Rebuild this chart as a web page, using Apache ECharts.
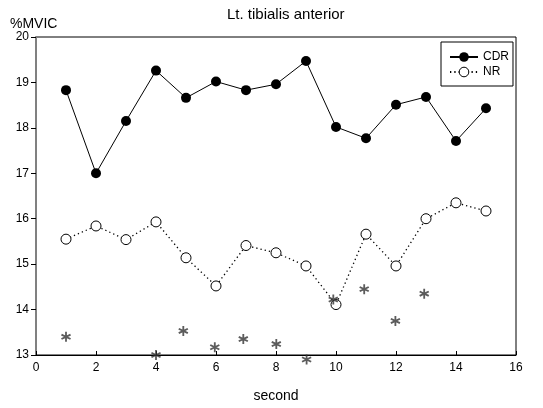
<!DOCTYPE html>
<html>
<head>
<meta charset="utf-8">
<script src="https://cdn.jsdelivr.net/npm/echarts@6/dist/echarts.min.js"></script>
<style>
  html, body { margin: 0; padding: 0; background: #fff; }
  #chart { width: 543px; height: 408px; }
</style>
</head>
<body>
<div id="chart"></div>
<script>
// x positions (second)
const seconds = [1, 2, 3, 4, 5, 6, 7, 8, 9, 10, 11, 12, 13, 14, 15];
// CDR (filled circles, solid line)
const cdrValues = [18.83, 17.0, 18.15, 19.26, 18.66, 19.02, 18.83, 18.96, 19.47, 18.02, 17.77, 18.51, 18.68, 17.71, 18.43];
// NR (open circles, dotted line)
const nrValues = [15.55, 15.84, 15.54, 15.93, 15.14, 14.52, 15.41, 15.25, 14.96, 14.11, 15.66, 14.96, 16.0, 16.35, 16.17];
// asterisk marks
const starX = [1.0, 4.0, 4.91, 5.96, 6.91, 8.01, 9.02, 9.91, 10.94, 11.98, 12.94];
const starY = [13.4, 13.0, 13.53, 13.17, 13.35, 13.24, 12.9, 14.22, 14.45, 13.75, 14.35];
const xTicks = { min: 0, max: 16, interval: 2 };
const yTicks = { min: 13, max: 20, interval: 1 };

const pair = (xs, ys) => xs.map((x, i) => [x, ys[i]]);

// six-armed asterisk
const starPath = 'path://M4.1 0L5.9 0L5.9 10L4.1 10Z' +
  'M0.05 3.57L0.95 2.01L9.95 6.43L9.05 7.99Z' +
  'M0.95 7.99L0.05 6.43L9.05 2.01L9.95 3.57Z';

const chart = echarts.init(document.getElementById('chart'));

const font = 'Arial, "Liberation Sans", sans-serif';

const option = {
  backgroundColor: '#fff',
  animation: false,
  textStyle: { fontFamily: font, color: '#000' },
  title: [
    { text: 'Lt. tibialis anterior', left: 222, top: 2,
      textStyle: { fontSize: 15, fontWeight: 'normal', color: '#000', fontFamily: font } },
    { text: '%MVIC', left: 5, top: 12,
      textStyle: { fontSize: 14, fontWeight: 'normal', color: '#000', fontFamily: font } }
  ],
  legend: {
    orient: 'vertical',
    left: 441,
    top: 42,
    padding: [9, 4, 8, 8],
    itemGap: 3,
    itemWidth: 28,
    itemHeight: 12,
    borderColor: '#000',
    borderWidth: 1,
    borderRadius: 0,
    textStyle: { fontSize: 12, color: '#000', fontFamily: font },
    data: [
      { name: 'CDR' },
      { name: 'NR', itemStyle: { color: '#fff', borderColor: '#000', borderWidth: 1 } }
    ]
  },
  grid: {
    left: 36, right: 27, top: 37, bottom: 53,
    show: true,
    borderColor: '#000',
    borderWidth: 1
  },
  xAxis: {
    type: 'value',
    min: xTicks.min, max: xTicks.max, interval: xTicks.interval,
    name: 'second',
    nameLocation: 'middle',
    nameGap: 34,
    nameTextStyle: { fontSize: 14, color: '#000', fontFamily: font },
    axisLine: { lineStyle: { color: '#000', width: 1 } },
    axisTick: { inside: true, length: 4, lineStyle: { color: '#000' } },
    axisLabel: { fontSize: 12, color: '#000', margin: 7, fontFamily: font },
    splitLine: { show: false }
  },
  yAxis: {
    type: 'value',
    min: yTicks.min, max: yTicks.max, interval: yTicks.interval,
    axisLine: { show: true, lineStyle: { color: '#808080', width: 2 } },
    axisTick: { show: true, inside: false, length: 5, lineStyle: { color: '#000' } },
    axisLabel: { fontSize: 12, color: '#000', margin: 7, fontFamily: font },
    splitLine: { show: false }
  },
  series: [
    {
      name: 'CDR',
      type: 'line',
      data: pair(seconds, cdrValues),
      symbol: 'circle',
      symbolSize: 10,
      itemStyle: { color: '#000' },
      lineStyle: { color: '#000', width: 1 },
      z: 3
    },
    {
      name: 'NR',
      type: 'line',
      data: pair(seconds, nrValues),
      symbol: 'circle',
      symbolSize: 10,
      itemStyle: { color: '#fff', borderColor: '#000', borderWidth: 1 },
      lineStyle: { color: '#000', width: 1.3, type: [1.3, 3] },
      z: 3
    },
    {
      name: 'sig',
      type: 'scatter',
      data: pair(starX, starY),
      symbol: starPath,
      symbolSize: [10, 10],
      clip: false,
      itemStyle: { color: '#333' },
      z: 4
    }
  ]
};

chart.setOption(option);
</script>
</body>
</html>
